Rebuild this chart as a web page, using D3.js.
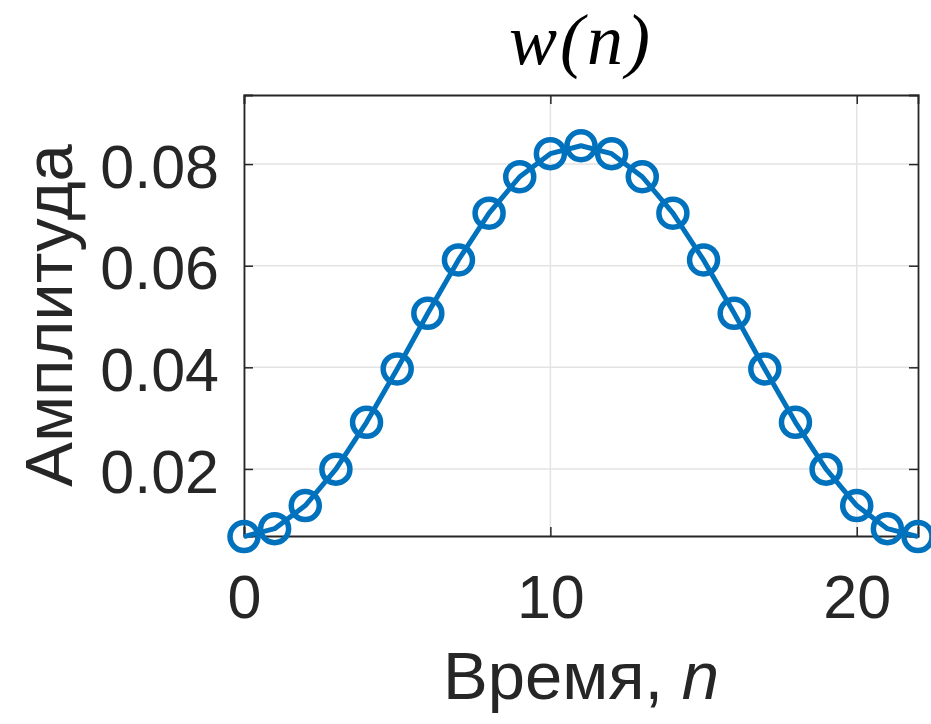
<!DOCTYPE html>
<html>
<head>
<meta charset="utf-8">
<script src="https://cdn.jsdelivr.net/npm/d3@7"></script>
<style>
  html, body { margin: 0; padding: 0; background: #fff; }
  svg { display: block; }
</style>
</head>
<body>
<svg id="chart" width="931" height="724"></svg>
<script>
// ---- data ----
const samples = [0,1,2,3,4,5,6,7,8,9,10,11,12,13,14,15,16,17,18,19,20,21,22];
const amplitude = [0.00669,0.00825,0.01279,0.01996,0.02918,0.03968,0.05063,0.06113,0.07034,0.07751,0.08206,0.08361,
                   0.08206,0.07751,0.07034,0.06113,0.05063,0.03968,0.02918,0.01996,0.01279,0.00825,0.00669];
const xTicks = [0, 10, 20];
const yTicks = [0.02, 0.04, 0.06, 0.08];
const xDomain = [0, 22];
const yDomain = [0.0068, 0.0936];
const titleText = "w(n)";
const xLabelText = "Время, ";
const xLabelVar = "n";
const yLabelText = "Амплитуда";

// ---- layout ----
const svg = d3.select("#chart");
const L = 244, R = 918, T = 95, B = 536;
const x = d3.scaleLinear().domain(xDomain).range([L, R]);
const y = d3.scaleLinear().domain(yDomain).range([B, T]);
const axisColor = "#262626";
const gridColor = "#e3e3e3";
const blue = "#0072BD";
const font = "'Liberation Sans', Arial, Helvetica, sans-serif";

// grid
const grid = svg.append("g");
grid.selectAll("line.gx").data(xTicks).join("line")
  .attr("x1", d => x(d)).attr("x2", d => x(d)).attr("y1", T).attr("y2", B)
  .attr("stroke", gridColor).attr("stroke-width", 1.5);
grid.selectAll("line.gy").data(yTicks).join("line")
  .attr("y1", d => y(d)).attr("y2", d => y(d)).attr("x1", L).attr("x2", R)
  .attr("stroke", gridColor).attr("stroke-width", 1.5);

// axes (inside ticks) via d3 axes
const tickLen = 9;
const gB = svg.append("g").attr("transform", `translate(0,${B})`)
  .call(d3.axisBottom(x).tickValues(xTicks).tickSize(-tickLen).tickPadding(39).tickFormat(d3.format("d")));
const gT = svg.append("g").attr("transform", `translate(0,${T})`)
  .call(d3.axisTop(x).tickValues(xTicks).tickSize(-tickLen).tickFormat(""));
const gL = svg.append("g").attr("transform", `translate(${L},0)`)
  .call(d3.axisLeft(y).tickValues(yTicks).tickSize(-tickLen).tickPadding(25).tickFormat(d3.format(".2f")));
const gR = svg.append("g").attr("transform", `translate(${R},0)`)
  .call(d3.axisRight(y).tickValues(yTicks).tickSize(-tickLen).tickFormat(""));

[gB, gT, gL, gR].forEach(g => {
  g.select(".domain").attr("stroke", axisColor).attr("stroke-width", 1.8);
  g.selectAll(".tick line").attr("stroke", axisColor).attr("stroke-width", 1.5);
  g.selectAll(".tick text").attr("fill", axisColor).style("font-family", font).style("font-size", "61px");
});
gB.selectAll(".tick text").attr("dy", "0.71em");
gL.selectAll(".tick text").attr("dy", "0.38em");

// line + markers
const line = d3.line().x((d, i) => x(samples[i])).y(d => y(d));
svg.append("path").datum(amplitude)
  .attr("d", line).attr("fill", "none").attr("stroke", blue)
  .attr("stroke-width", 5).attr("stroke-linejoin", "round");
svg.append("g").selectAll("circle").data(amplitude).join("circle")
  .attr("cx", (d, i) => x(samples[i])).attr("cy", d => y(d))
  .attr("r", 14).attr("fill", "none").attr("stroke", blue).attr("stroke-width", 5.5);

// title
svg.append("text").attr("x", (L + R) / 2).attr("y", 64)
  .attr("text-anchor", "middle").attr("fill", "#000")
  .style("font-family", "'Liberation Serif', 'DejaVu Serif', serif")
  .style("font-style", "italic").style("font-size", "72px")
  .style("letter-spacing", "3px")
  .text(titleText);

// x label
const xl = svg.append("text").attr("x", (L + R) / 2).attr("y", 699)
  .attr("text-anchor", "middle").attr("fill", axisColor)
  .style("font-family", font).style("font-size", "67px");
xl.append("tspan").text(xLabelText);
xl.append("tspan").style("font-style", "italic").text(xLabelVar);

// y label
svg.append("text").attr("transform", `translate(72,${(T + B) / 2}) rotate(-90)`)
  .attr("text-anchor", "middle").attr("fill", axisColor)
  .style("font-family", font).style("font-size", "67px")
  .text(yLabelText);
</script>
</body>
</html>
